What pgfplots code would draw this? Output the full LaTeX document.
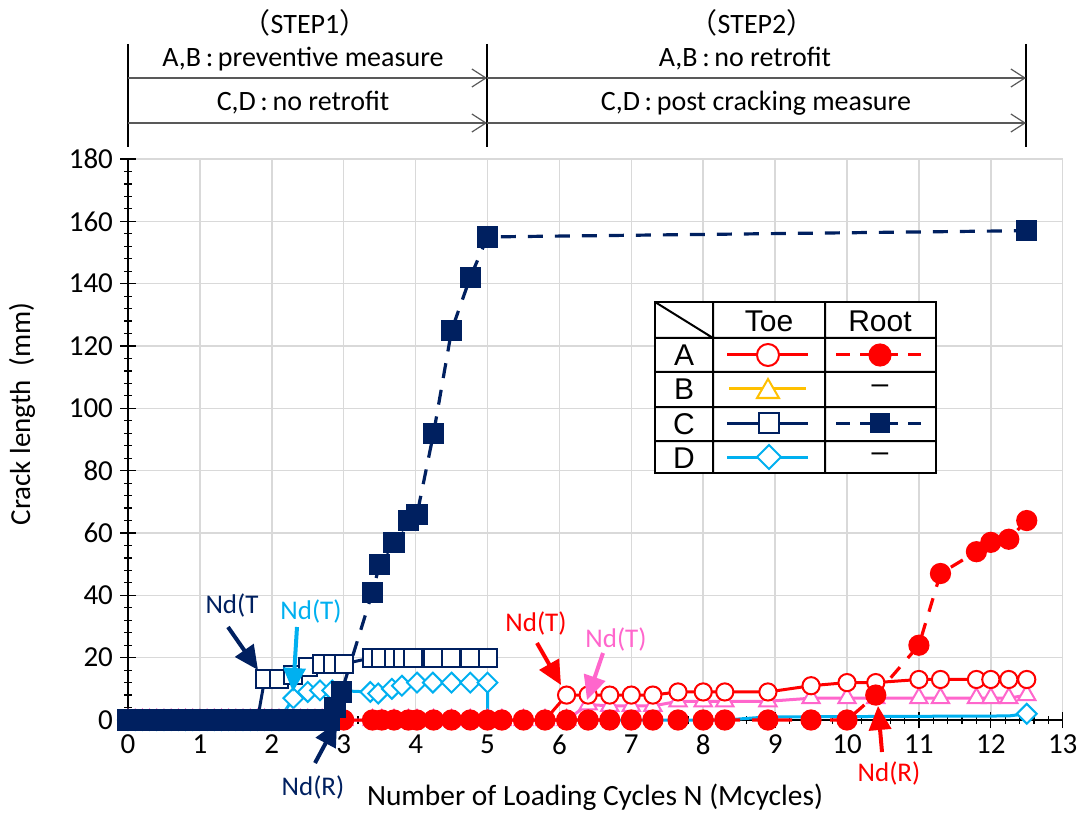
\documentclass[border=0pt]{standalone}
\usepackage{pgfplots}
\pgfplotsset{compat=1.18}
\usepackage{fontspec}
\setmainfont{Carlito}
\newfontfamily\cjk{Noto Sans CJK JP}
\newfontfamily\arial{Liberation Sans}
\usetikzlibrary{arrows.meta}
\definecolor{cRed}{HTML}{FF0000}
\definecolor{cNavy}{HTML}{002060}
\definecolor{cCyan}{HTML}{00B0F0}
\definecolor{cPink}{HTML}{FF66CC}
\definecolor{cYel}{HTML}{FFC000}
\definecolor{cGrid}{HTML}{D9D9D9}
\definecolor{cLine}{HTML}{595959}
\newcommand\fs[1]{\fontsize{#1}{#1}\selectfont}
\begin{document}
\begin{tikzpicture}[x=0.5pt,y=0.5pt]
\useasboundingbox (0,0) rectangle (1081,815);
\begin{axis}[
  at={(64pt,47.5pt)}, anchor=south west,
  scale only axis, width=467.35pt, height=280.5pt,
  xmin=0, xmax=13, ymin=0, ymax=180,
  axis x line*=bottom, axis y line*=left,
  xtick={0,1,...,13}, ytick={0,20,...,180},
  minor x tick num=4, minor y tick num=4,
  grid=major, major grid style={cGrid, line width=0.75pt},
  tick align=center, major tick length=8pt, minor tick length=4pt,
  tick style={black, line width=0.6pt},
  axis line style={black, line width=0.8pt},
  ticklabel style={font=\fs{14.5}},
  /pgf/number format/assume math mode=true,
  clip=false,
]
% D toe
\addplot[cCyan, line width=1.5pt, mark=square*, mark size=3.5pt, mark options={rotate=45, fill=white, line width=1pt}] coordinates {
(0,0)(0.1,0)(0.2,0)(0.3,0)(0.4,0)(0.5,0)(0.6,0)(0.7,0)(0.8,0)(0.9,0)(1,0)(1.1,0)(1.2,0)(1.3,0)(1.4,0)(1.5,0)(1.6,0)(1.7,0)(1.8,0)(1.9,0)(2,0)(2.1,0)
(2.3,7)(2.5,9)(2.67,9.5)(2.84,9.5)(3.37,9)(3.48,8.5)(3.67,10)(3.81,11)(4.02,12)(4.24,12)(4.5,12)(4.76,12)(5.0,12)};
\addplot[cCyan, line width=1.5pt, mark=square*, mark size=3.5pt, mark indices={6}, mark options={rotate=45, fill=white, line width=1pt}] coordinates {
(5.0,12)(5.0,0)(8.3,0)(8.9,1)(12.25,1.3)(12.5,2)};
% B toe
\addplot[cPink, line width=1.5pt, mark=triangle*, mark size=5pt, mark options={fill=white, line width=1pt}] coordinates {
(0,0)(0.1,0)(0.2,0)(0.3,0)(0.4,0)(0.5,0)(0.6,0)(0.7,0)(0.8,0)(0.9,0)(1,0)(1.1,0)(1.2,0)(1.3,0)(1.4,0)(1.5,0)(1.6,0)(1.7,0)(1.8,0)(1.9,0)(2,0)(2.1,0)(2.2,0)(2.3,0)(2.4,0)(2.5,0)(2.6,0)(2.7,0)(2.8,0)(2.9,0)
(3.0,0)(3.4,0)(3.53,0)(3.7,0)(3.9,0)(4.02,0)(4.25,0)(4.5,0)(4.76,0)(5.0,0)(5.2,0)(5.5,0)(5.8,0)(6.1,0)
(6.4,5)(6.7,4.5)(7.0,4.5)(7.3,4.5)(7.65,6)(8.0,6)(8.3,6)(8.9,6)(9.5,7)(10.0,7)(10.4,7)(11.0,7)(11.3,7)(11.8,7)(12.0,7)(12.25,7)(12.5,8)};
% A toe
\addplot[cRed, line width=1.5pt, mark=*, mark size=4.3pt, mark options={fill=white, draw=cRed, line width=1pt}] coordinates {
(0,0)(0.1,0)(0.2,0)(0.3,0)(0.4,0)(0.5,0)(0.6,0)(0.7,0)(0.8,0)(0.9,0)(1,0)(1.1,0)(1.2,0)(1.3,0)(1.4,0)(1.5,0)(1.6,0)(1.7,0)(1.8,0)(1.9,0)(2,0)(2.1,0)(2.2,0)(2.3,0)(2.4,0)(2.5,0)(2.6,0)(2.7,0)(2.8,0)(2.9,0)
(3.0,0)(3.4,0)(3.53,0)(3.7,0)(3.9,0)(4.02,0)(4.25,0)(4.5,0)(4.76,0)(5.0,0)(5.2,0)(5.5,0)(5.8,0)
(6.1,8)(6.4,8)(6.7,8)(7.0,8)(7.3,8)(7.65,9)(8.0,9)(8.3,9)(8.9,9)(9.5,11)(10.0,12)(10.4,12)(11.0,13)(11.3,13)(11.8,13)(12.0,13)(12.25,13)(12.5,13)};
% A root
\addplot[cRed, line width=1.6pt, dash pattern=on 7pt off 6pt, mark=*, mark size=4.5pt, mark options={solid, fill=cRed}] coordinates {
(0,0)(0.1,0)(0.2,0)(0.3,0)(0.4,0)(0.5,0)(0.6,0)(0.7,0)(0.8,0)(0.9,0)(1,0)(1.1,0)(1.2,0)(1.3,0)(1.4,0)(1.5,0)(1.6,0)(1.7,0)(1.8,0)(1.9,0)(2,0)(2.1,0)(2.2,0)(2.3,0)(2.4,0)(2.5,0)(2.6,0)(2.7,0)(2.8,0)(2.9,0)
(3.0,0)(3.4,0)(3.53,0)(3.7,0)(3.9,0)(4.02,0)(4.25,0)(4.5,0)(4.76,0)(5.0,0)(5.2,0)(5.5,0)(5.8,0)(6.1,0)(6.4,0)(6.7,0)(7.0,0)(7.3,0)(7.65,0)(8.0,0)(8.3,0)(8.9,0)(9.5,0)(10.0,0)
(10.4,8)(11.0,24)(11.3,47)(11.8,54)(12.0,57)(12.25,58)(12.5,64)};
% C toe
\addplot[cNavy, line width=1.5pt, mark=square*, mark size=4.5pt, mark options={fill=white, line width=1pt}] coordinates {
(0,0)(0.1,0)(0.2,0)(0.3,0)(0.4,0)(0.5,0)(0.6,0)(0.7,0)(0.8,0)(0.9,0)(1,0)(1.1,0)(1.2,0)(1.3,0)(1.4,0)(1.5,0)(1.6,0)(1.7,0)(1.8,0)
(1.9,13)(2.1,13)(2.3,14.5)(2.5,17)(2.7,18)(2.85,18)(3.0,18)(3.4,20)(3.52,20)(3.7,20)(3.82,20)(3.97,20)(4.24,20)(4.49,20)(4.75,20)(5.0,20)};
% C root
\addplot[cNavy, line width=1.6pt, dash pattern=on 7.5pt off 6pt, mark=square*, mark size=4.5pt, mark options={solid, fill=cNavy}] coordinates {
(0,0)(0.1,0)(0.2,0)(0.3,0)(0.4,0)(0.5,0)(0.6,0)(0.7,0)(0.8,0)(0.9,0)(1,0)(1.1,0)(1.2,0)(1.3,0)(1.4,0)(1.5,0)(1.6,0)(1.7,0)(1.8,0)(1.9,0)(2,0)(2.1,0)(2.2,0)(2.3,0)(2.4,0)(2.5,0)(2.6,0)(2.7,0)(2.8,0)
(2.88,4)(2.97,9)(3.4,41)(3.5,50)(3.7,57)(3.9,64)(4.02,66)(4.25,92)(4.5,125)(4.76,142)(5.0,155)(12.5,157)};
\end{axis}
\begin{scope}[yshift=407.5pt, yscale=-1]
% axis labels
\node[font=\fs{14.7}] at (595,797) {Number of Loading Cycles N (Mcycles)};
\node[font=\fs{14.5}, rotate=90] at (22,414) {Crack length\ \ (mm)};
% step annotations
\draw[black, line width=0.6pt] (128,44)--(128,147) (487,44)--(487,147) (1026,44)--(1026,147);
\draw[cLine, line width=0.6pt, -{Straight Barb[length=7pt,width=9pt]}] (128,78)--(487,78);
\draw[cLine, line width=0.6pt, -{Straight Barb[length=7pt,width=9pt]}] (128,123)--(487,123);
\draw[cLine, line width=0.6pt, -{Straight Barb[length=7pt,width=9pt]}] (487,78)--(1026,78);
\draw[cLine, line width=0.6pt, -{Straight Barb[length=7pt,width=9pt]}] (487,123)--(1026,123);
\node[font=\fs{14}] at (305,23) {{\cjk （}STEP1{\cjk ）}};
\node[font=\fs{14}] at (303,59) {A,B\,:\,preventive measure};
\node[font=\fs{14}] at (303,103) {C,D\,:\,no retrofit};
\node[font=\fs{14}] at (752,23) {{\cjk （}STEP2{\cjk ）}};
\node[font=\fs{14}] at (745,59) {A,B\,:\,no retrofit};
\node[font=\fs{14}] at (756,103) {C,D\,:\,post cracking measure};
% legend table
\fill[white] (655,302) rectangle (936,473);
\draw[line width=1pt] (655,302) rectangle (936,473);
\draw[line width=1pt] (713,302)--(713,473) (825,302)--(825,473)
  (655,338)--(936,338) (655,372)--(936,372) (655,407)--(936,407) (655,441)--(936,441)
  (655,302)--(713,338);
\node[font=\arial\fs{15}] at (769,321) {Toe};
\node[font=\arial\fs{15}] at (880,321) {Root};
\node[font=\arial\fs{15}] at (684,355) {A};
\node[font=\arial\fs{15}] at (684,389) {B};
\node[font=\arial\fs{15}] at (684,424) {C};
\node[font=\arial\fs{15}] at (684,458) {D};
\draw[cRed, line width=1.5pt] (727,355)--(808,355);
\draw[cRed, line width=1pt, fill=white] (768,355) circle (5.5pt);
\draw[cRed, line width=1.5pt, dash pattern=on 7pt off 5pt] (836,355)--(921,355);
\fill[cRed] (880,355) circle (5.8pt);
\draw[cYel, line width=1.5pt] (729,389)--(806,389);
\draw[cYel, line width=1pt, fill=white] (757,398)--(779,398)--(768,379)--cycle;
\node[font=\arial\fs{15}] at (880,389) {–};
\draw[cNavy, line width=1.5pt] (727,423)--(808,423);
\draw[cNavy, line width=1pt, fill=white] (759,413) rectangle (779,433);
\draw[cNavy, line width=1.5pt, dash pattern=on 7pt off 5pt] (836,423)--(921,423);
\fill[cNavy] (870,413) rectangle (890,433);
\draw[cCyan, line width=1.5pt] (727,457)--(808,457);
\draw[cCyan, line width=1pt, fill=white] (757,457)--(769,445)--(781,457)--(769,469)--cycle;
\node[font=\arial\fs{15}] at (880,457) {–};
% Nd annotations
\tikzset{ndarrow/.style={line width=2pt, -{Triangle[length=12pt,width=11pt]}}}
\node[cNavy, font=\fs{13.5}] at (232,606) {Nd(T};
\draw[cNavy, ndarrow] (228,627)--(258,670);
\node[cCyan, font=\fs{13.5}] at (311,611) {Nd(T)};
\draw[cCyan, ndarrow] (297,627)--(293,692);
\node[cNavy, font=\fs{13.5}] at (313,787) {Nd(R)};
\draw[cNavy, ndarrow] (315,763)--(337,722);
\node[cRed, font=\fs{13.5}] at (536,623) {Nd(T)};
\draw[cRed, ndarrow] (537,643)--(561,685);
\node[cPink, font=\fs{13.5}] at (616,639) {Nd(T)};
\draw[cPink, ndarrow] (603,653)--(587,700);
\node[cRed, font=\fs{13.5}] at (889,773) {Nd(R)};
\draw[cRed, ndarrow] (882,752)--(878,706);
\end{scope}
\end{tikzpicture}
\end{document}
